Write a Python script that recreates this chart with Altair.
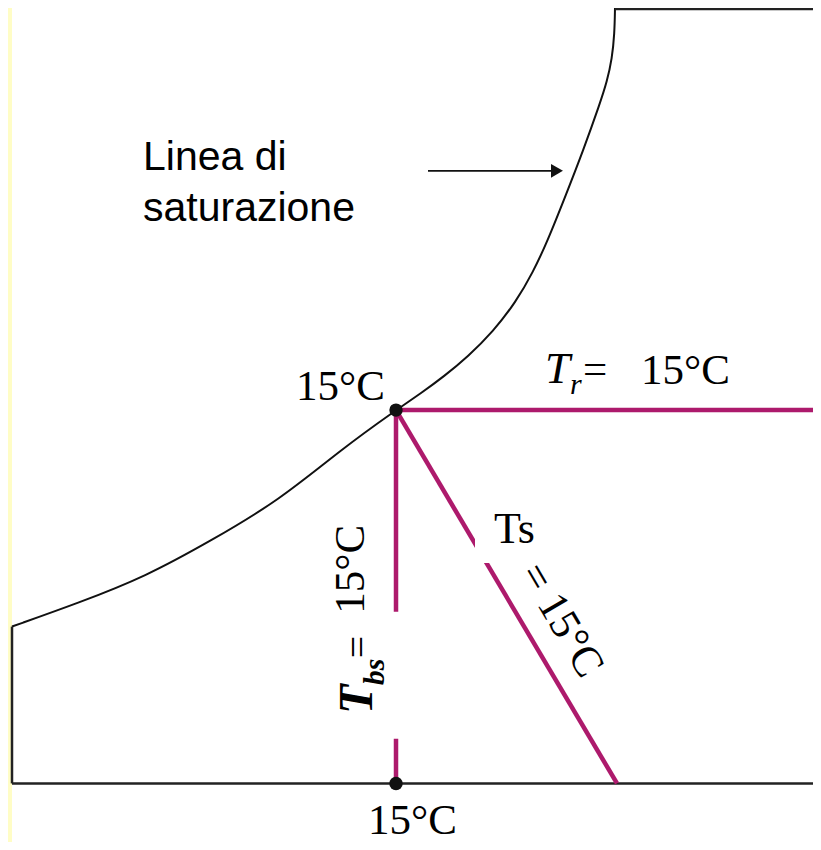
import altair as alt
import pandas as pd

# ---------------- data (diagram coordinates; x to the right, y downward) ----------------
# saturation line
curve_x = [615, 614.5, 612, 607, 600, 583, 566, 547, 533, 516, 493, 468, 444, 421, 396, 342, 279, 212, 145, 79, 12]
curve_y = [4, 30, 55, 78, 100, 148, 192, 240, 270, 300, 330, 355, 375, 392, 409, 448, 500, 540, 577, 603, 627]

# chart frame (top edge, left edge, bottom edge)
frame_x1 = [615, 12, 12]
frame_y1 = [5, 627, 785]
frame_x2 = [821, 12, 821]
frame_y2 = [5, 785, 785]

# process lines: dew point (horizontal), dry bulb (vertical), wet bulb (diagonal)
process_x1 = [396, 396, 396]
process_y1 = [409, 409, 409]
process_x2 = [821, 396, 617]
process_y2 = [409, 785, 785]

# white label boxes
mask_x1 = [328, 475]
mask_x2 = [418, 563]
mask_y1 = [612, 503]
mask_y2 = [740, 563]

# state points
state_x = [396, 396]
state_y = [409, 785]

# arrow pointing to the saturation line
arrow_x1 = [428]
arrow_x2 = [552]
arrow_y = [168]
arrowhead_x = [557]

# yellow slide strip
strip_x1 = [8]
strip_x2 = [12]
strip_y1 = [4]
strip_y2 = [844]

# labels
sans_text = ["Linea di", "saturazione"]
sans_x = [143, 143]
sans_y = [167, 219]

serif_text = ["15°C", "15°C", "=", "15°C", "Ts"]
serif_x = [296, 368, 583, 641, 494]
serif_y = [399, 836, 382, 383, 543]
serif_size = [43, 43, 43, 43, 44]

italic_text = ["T", "r"]
italic_x = [545, 570]
italic_y = [382, 393]
italic_size = [45, 30]

rot_text = ["15°C", "="]
rot_x = [364, 371]
rot_y = [614, 659]
rot_size = [43, 40]

rotbi_text = ["T", "bs"]
rotbi_x = [372, 384]
rotbi_y = [715, 686]
rotbi_size = [48, 30]

diag_text = ["= 15°C"]
diag_x = [530]
diag_y = [567]

MAGENTA = "#AD1A6C"
BLACK = "#111111"
SERIF = "Liberation Serif"
SANS = "Liberation Sans"

xs = alt.Scale(domain=[8, 813], nice=False, zero=False)
ys = alt.Scale(domain=[4, 844], nice=False, zero=False, reverse=True)


def X(f="x"):
    return alt.X(f"{f}:Q", scale=xs, axis=None)


def Y(f="y"):
    return alt.Y(f"{f}:Q", scale=ys, axis=None)


strip = alt.Chart(pd.DataFrame({"x": strip_x1, "x2": strip_x2, "y": strip_y1, "y2": strip_y2})).mark_rect(
    color="#FFFDC6"
).encode(x=X(), x2="x2:Q", y=Y(), y2="y2:Q")

curve = alt.Chart(pd.DataFrame({"x": curve_x, "y": curve_y, "i": list(range(len(curve_x)))})).mark_line(
    interpolate="basis", color=BLACK, strokeWidth=2, clip=True
).encode(x=X(), y=Y(), order="i:Q")

frame = alt.Chart(pd.DataFrame({"x": frame_x1, "y": frame_y1, "x2": frame_x2, "y2": frame_y2})).mark_rule(
    color="#222222", strokeWidth=2.5, clip=True
).encode(x=X(), y=Y(), x2="x2:Q", y2="y2:Q")

process = alt.Chart(pd.DataFrame({"x": process_x1, "y": process_y1, "x2": process_x2, "y2": process_y2})).mark_rule(
    color=MAGENTA, strokeWidth=4.5, clip=True
).encode(x=X(), y=Y(), x2="x2:Q", y2="y2:Q")

masks = alt.Chart(pd.DataFrame({"x": mask_x1, "x2": mask_x2, "y": mask_y1, "y2": mask_y2})).mark_rect(
    color="white"
).encode(x=X(), x2="x2:Q", y=Y(), y2="y2:Q")

states = alt.Chart(pd.DataFrame({"x": state_x, "y": state_y})).mark_circle(
    color=BLACK, size=180, opacity=1
).encode(x=X(), y=Y())

arrow = alt.Chart(pd.DataFrame({"x": arrow_x1, "x2": arrow_x2, "y": arrow_y})).mark_rule(
    color=BLACK, strokeWidth=1.8
).encode(x=X(), x2="x2:Q", y=Y())

arrowhead = alt.Chart(pd.DataFrame({"x": arrowhead_x, "y": arrow_y})).mark_point(
    shape="triangle-right", filled=True, color=BLACK, size=190, opacity=1
).encode(x=X(), y=Y())

sans = alt.Chart(pd.DataFrame({"t": sans_text, "x": sans_x, "y": sans_y})).mark_text(
    font=SANS, fontSize=41, align="left", baseline="alphabetic", color="black"
).encode(x=X(), y=Y(), text="t:N")

serif = alt.Chart(pd.DataFrame({"t": serif_text, "x": serif_x, "y": serif_y, "s": serif_size})).mark_text(
    font=SERIF, align="left", baseline="alphabetic", color="black"
).encode(x=X(), y=Y(), text="t:N", size=alt.Size("s:Q", scale=None))

italic = alt.Chart(pd.DataFrame({"t": italic_text, "x": italic_x, "y": italic_y, "s": italic_size})).mark_text(
    font=SERIF, fontStyle="italic", align="left", baseline="alphabetic", color="black"
).encode(x=X(), y=Y(), text="t:N", size=alt.Size("s:Q", scale=None))

rot = alt.Chart(pd.DataFrame({"t": rot_text, "x": rot_x, "y": rot_y, "s": rot_size})).mark_text(
    font=SERIF, angle=270, align="left", baseline="alphabetic", color="black"
).encode(x=X(), y=Y(), text="t:N", size=alt.Size("s:Q", scale=None))

rotbi = alt.Chart(pd.DataFrame({"t": rotbi_text, "x": rotbi_x, "y": rotbi_y, "s": rotbi_size})).mark_text(
    font=SERIF, fontStyle="italic", fontWeight="bold", angle=270, align="left", baseline="alphabetic", color="black"
).encode(x=X(), y=Y(), text="t:N", size=alt.Size("s:Q", scale=None))

diag = alt.Chart(pd.DataFrame({"t": diag_text, "x": diag_x, "y": diag_y})).mark_text(
    font=SERIF, fontSize=43, angle=59.5, align="left", baseline="middle", color="black"
).encode(x=X(), y=Y(), text="t:N")

chart = alt.layer(
    strip, curve, frame, process, masks, states, arrow, arrowhead,
    sans, serif, italic, rot, rotbi, diag
).properties(
    width=805, height=834, padding=0, autosize="none", background="white"
).configure_view(stroke=None)

chart.save("out.html", embed_options={"renderer": "svg", "actions": False})
